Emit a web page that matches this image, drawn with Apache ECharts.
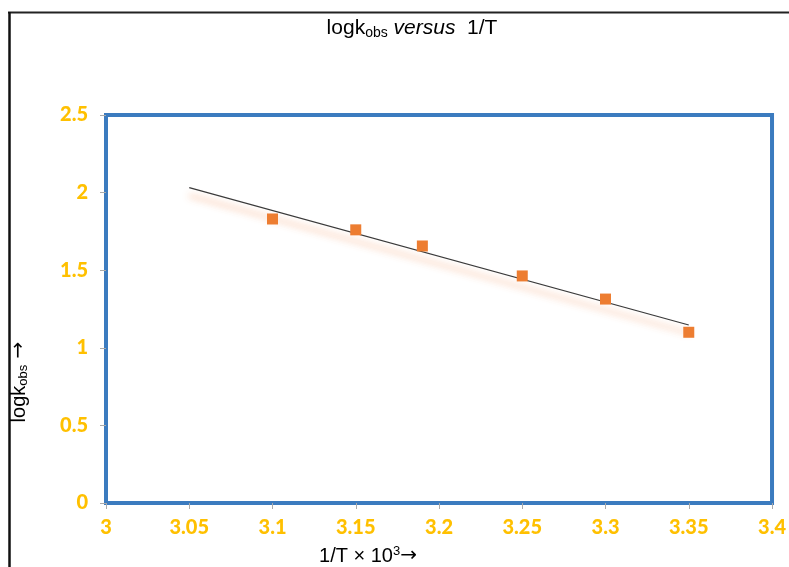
<!DOCTYPE html>
<html>
<head>
<meta charset="utf-8">
<script src="https://cdn.jsdelivr.net/npm/echarts@6/dist/echarts.min.js"></script>
<style>html,body{margin:0;padding:0;background:#fff}#c{width:789px;height:567px}</style>
</head>
<body>
<div id="c"></div>
<script>
// Data
var invT = [3.1, 3.15, 3.19, 3.25, 3.3, 3.35];
var logK = [1.83, 1.76, 1.656, 1.463, 1.314, 1.10];
var trendX = [3.05, 3.35];
var trendY = [2.032, 1.147];
var xTicks = {min: 3, max: 3.4, step: 0.05};
var yTicks = {min: 0, max: 2.5, step: 0.5};

var chart = echarts.init(document.getElementById('c'), null, {renderer: 'canvas'});
var tickLabel = {color: '#FFC000', fontWeight: 900, fontSize: 20, fontFamily: 'Lato, "Open Sans", sans-serif'};
var FF = '"Liberation Sans", Arial, sans-serif';

chart.setOption({
  animation: false,
  title: {
    text: '{a|logk}{s|obs}{i| versus}{a|  1/T}',
    left: 407, top: 12, textAlign: 'center',
    textStyle: {
      fontWeight: 'normal',
      rich: {
        a: {fontSize: 21, fontFamily: FF, color: '#000', fontWeight: 'normal'},
        s: {fontSize: 14, fontFamily: FF, color: '#000', fontWeight: 'normal', padding: [9, 0, 0, 0]},
        i: {fontSize: 21, fontFamily: FF, color: '#000', fontStyle: 'italic', fontWeight: 'normal'}
      }
    }
  },
  grid: {left: 106, top: 115, width: 668, height: 388, show: true, borderColor: '#3B7BBF', borderWidth: 4, backgroundColor: 'transparent'},
  xAxis: {
    type: 'value', min: xTicks.min, max: xTicks.max, interval: xTicks.step,
    axisLine: {show: false},
    axisTick: {show: true, length: 6, lineStyle: {color: '#aaa'}},
    splitLine: {show: false},
    axisLabel: Object.assign({margin: 15, formatter: function (v) { return String(+v.toFixed(2)); }}, tickLabel)
  },
  yAxis: {
    type: 'value', min: yTicks.min, max: yTicks.max, interval: yTicks.step,
    axisLine: {show: false},
    axisTick: {show: true, length: 6, lineStyle: {color: '#aaa'}},
    splitLine: {show: false},
    axisLabel: Object.assign({margin: 18, formatter: function (v) { return String(+v.toFixed(1)); }}, tickLabel)
  },
  series: [
    {
      type: 'line', data: trendX.map(function (x, i) { return [x, trendY[i]]; }),
      showSymbol: false, symbol: 'none',
      lineStyle: {color: '#3a3a3a', width: 1.2, shadowColor: 'rgba(240,115,45,0.85)', shadowBlur: 7, shadowOffsetY: 8},
      z: 2
    },
    {
      type: 'scatter', data: invT.map(function (x, i) { return [x, logK[i]]; }),
      symbol: 'rect', symbolSize: 11,
      itemStyle: {color: '#ED7D31', opacity: 1}, z: 3
    }
  ],
  graphic: [
    {type: 'line', shape: {x1: 8, y1: 12.5, x2: 789, y2: 12.5}, style: {stroke: '#222', lineWidth: 2}},
    {type: 'line', shape: {x1: 9.5, y1: 12, x2: 9.5, y2: 567}, style: {stroke: '#111', lineWidth: 2.5}},
    {
      type: 'text', x: 19, y: 382, rotation: Math.PI / 2,
      style: {
        text: '{a|logk}{s|obs}{r| →}', align: 'center', verticalAlign: 'middle',
        rich: {
          a: {fontSize: 20, fontFamily: FF, fill: '#000'},
          s: {fontSize: 13, fontFamily: FF, fill: '#000', padding: [9, 0, 0, 0]},
          r: {fontSize: 20, fontFamily: '"DejaVu Sans", sans-serif', fill: '#000'}
        }
      }
    },
    {
      type: 'text', x: 368, y: 556,
      style: {
        text: '{a|1/T × 10}{p|3}{r|→}', align: 'center', verticalAlign: 'middle',
        rich: {
          a: {fontSize: 20, fontFamily: FF, fill: '#000'},
          p: {fontSize: 13, fontFamily: FF, fill: '#000', padding: [0, 0, 9, 0]},
          r: {fontSize: 20, fontFamily: '"DejaVu Sans", sans-serif', fill: '#000'}
        }
      }
    }
  ]
});
</script>
</body>
</html>
